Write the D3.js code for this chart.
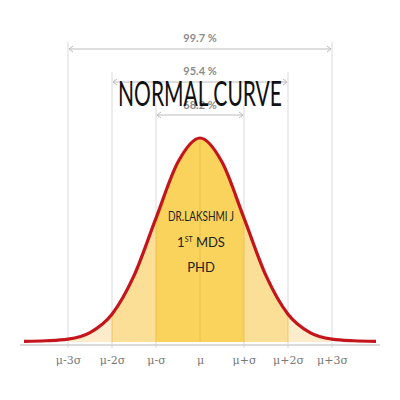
<!DOCTYPE html>
<html><head><meta charset="utf-8">
<script src="https://d3js.org/d3.v7.min.js"></script>
<style>body{margin:0;background:#fff}</style></head>
<body><svg id="c" width="400" height="400"></svg>
<script>
// x in sigma units, relative density
const curveX = [-4,-3.5,-3,-2.5,-2,-1.5,-1,-0.5,0,0.5,1,1.5,2,2.5,3,3.5,4];
const curveY = [0.003,0.006,0.014,0.046,0.136,0.325,0.607,0.882,1,0.882,0.607,0.325,0.136,0.046,0.014,0.006,0.003];
const tickVals = [-3,-2,-1,0,1,2,3];
const tickLabels = ["μ-3σ","μ-2σ","μ-σ","μ","μ+σ","μ+2σ","μ+3σ"];
const bands = [3,2,1];
const bandLabels = ["99.7 %","95.4 %","68.2 %"];
const bandColors = ["#fdeccb","#fbdf96","#f9d35c"];

const svg = d3.select("#c");
const x = d3.scaleLinear().domain([-4,4]).range([24,376]);
const y = d3.scaleLinear().domain([0,1]).range([342,138]);
const pts = curveX.map((v,i)=>[v,curveY[i]]);

const bandTop=[42,72,105], bandLineY=[49,82,115], bandTextY=[42,75,109];
bands.forEach((b,i)=>{
  [-b,b].forEach(s=>svg.append("line").attr("x1",x(s)).attr("x2",x(s))
    .attr("y1",bandTop[i]).attr("y2",348).attr("stroke","#d9d9d9").attr("stroke-width",1));
});
const area = d3.area().x(d=>x(d[0])).y0(y(0)).y1(d=>y(d[1])).curve(d3.curveMonotoneX);
bands.forEach((b,i)=>{
  const cid="clip"+i;
  svg.append("clipPath").attr("id",cid).append("rect")
    .attr("x",x(-b)).attr("y",0).attr("width",x(b)-x(-b)).attr("height",400);
  svg.append("path").datum(pts).attr("d",area).attr("fill",bandColors[i]).attr("clip-path",`url(#${cid})`);
});
svg.append("clipPath").attr("id","under").append("path").datum(pts).attr("d",area);
tickVals.filter(t=>Math.abs(t)<=2).forEach(t=>svg.append("line").attr("x1",x(t)).attr("x2",x(t))
  .attr("y1",100).attr("y2",342).attr("stroke","#e2b540").attr("stroke-opacity",0.6).attr("clip-path","url(#under)"));
bands.forEach((b,i)=>{
  const g=svg.append("g").attr("stroke","#bdbdbd").attr("fill","none");
  g.append("line").attr("x1",x(-b)+1).attr("x2",x(b)-1).attr("y1",bandLineY[i]).attr("y2",bandLineY[i]);
  g.append("path").attr("d",`M${x(-b)+5},${bandLineY[i]-3}L${x(-b)+1},${bandLineY[i]}L${x(-b)+5},${bandLineY[i]+3}`);
  g.append("path").attr("d",`M${x(b)-5},${bandLineY[i]-3}L${x(b)-1},${bandLineY[i]}L${x(b)-5},${bandLineY[i]+3}`);
  svg.append("text").attr("x",200).attr("y",bandTextY[i]).attr("text-anchor","middle")
    .attr("font-family","Lato, sans-serif").attr("font-size",11).attr("font-weight","bold")
    .attr("fill","#8c8c8c").text(bandLabels[i]);
});
svg.append("line").attr("x1",20).attr("x2",380).attr("y1",345).attr("y2",345).attr("stroke","#cfcfcf").attr("stroke-width",1.5);
svg.append("path").datum(pts).attr("d",d3.line().x(d=>x(d[0])).y(d=>y(d[1])).curve(d3.curveMonotoneX))
  .attr("fill","none").attr("stroke","#c4141c").attr("stroke-width",3.2);
svg.append("g").attr("transform","translate(0,345)")
  .call(d3.axisBottom(x).tickValues(tickVals).tickFormat((d,i)=>tickLabels[i]).tickSize(0).tickPadding(11))
  .call(g=>{g.select(".domain").remove();g.selectAll("text").attr("font-family","DejaVu Serif, serif").attr("font-size",11).attr("fill","#777");});
svg.append("text").attr("x",200).attr("y",106).attr("text-anchor","middle")
  .attr("font-family","Lato, sans-serif").attr("font-size",35).attr("fill","#111")
  .attr("textLength",164).attr("lengthAdjust","spacingAndGlyphs").text("NORMAL CURVE");
const t=(yy,txt)=>svg.append("text").attr("x",201).attr("y",yy).attr("text-anchor","middle")
  .attr("font-family","Lato, sans-serif").attr("font-size",13).attr("fill","#222");
t(221).attr("textLength",66).attr("lengthAdjust","spacingAndGlyphs").text("DR.LAKSHMI J");
const m=t(247); m.append("tspan").text("1"); m.append("tspan").attr("font-size",7).attr("dy",-5).text("ST");
m.append("tspan").attr("dy",5).text(" MDS");
t(272).text("PHD");
</script></body></html>
